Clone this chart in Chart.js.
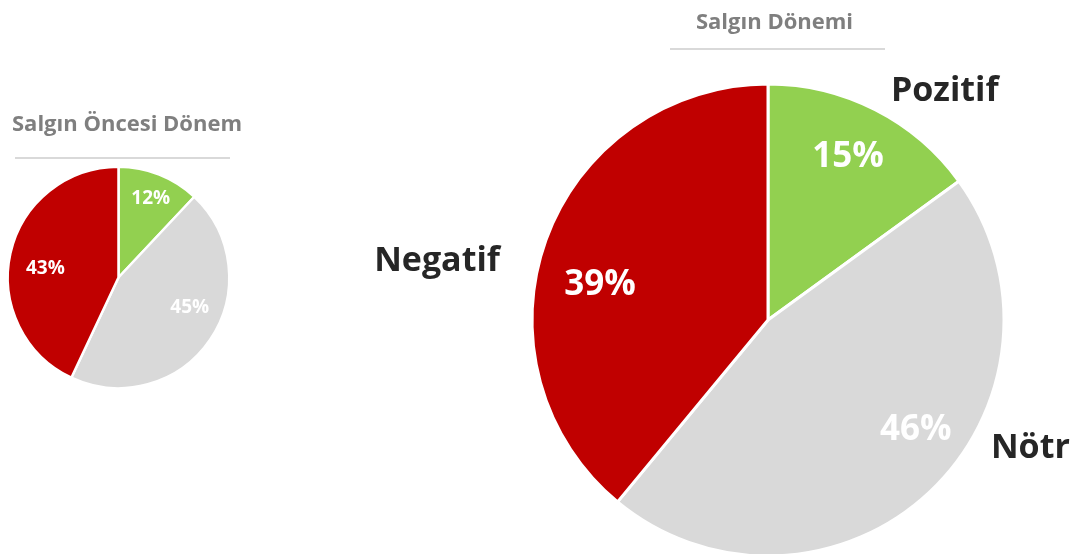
<!DOCTYPE html>
<html>
<head>
<meta charset="utf-8">
<script src="https://cdn.jsdelivr.net/npm/chart.js@4"></script>
<style>
  html, body { margin: 0; padding: 0; background: #fff; overflow: hidden; width: 1077px; height: 554px; }
  canvas { position: absolute; top: 0; }
  #preChart { left: 0; }
  #duringChart { left: 340px; }
</style>
</head>
<body>
<canvas id="preChart" width="250" height="554"></canvas>
<canvas id="duringChart" width="737" height="600"></canvas>
<script>
const categories = ["Pozitif", "Nötr", "Negatif"];
const preValues = [12, 45, 43];      // Salgın Öncesi Dönem (%)
const duringValues = [15, 46, 39];   // Salgın Dönemi (%)
const sliceColors = ["#92D050", "#D9D9D9", "#C00000"];
const preTitle = "Salgın Öncesi Dönem";
const duringTitle = "Salgın Dönemi";

const FONT = "'Open Sans', Lato, sans-serif";

// percent labels, category labels and the underlined title
const pieLabels = {
    id: "pieLabels",
    afterDraw(chart, args, opts) {
        const ctx = chart.ctx;
        const values = chart.data.datasets[0].data;
        const meta = chart.getDatasetMeta(0);
        ctx.save();
        ctx.textAlign = "center";
        ctx.textBaseline = "middle";

        let cx = 0;
        meta.data.forEach((arc, i) => {
            const p = arc.getProps(["x", "y", "startAngle", "endAngle", "outerRadius"], true);
            cx = p.x;
            const mid = (p.startAngle + p.endAngle) / 2;

            let a = mid + opts.pctShift[i] * Math.PI / 180;
            let r = p.outerRadius * opts.pctRadius[i];
            ctx.font = "bold " + opts.pctSize + "px " + FONT;
            ctx.fillStyle = "#ffffff";
            ctx.fillText(values[i] + "%", p.x + Math.cos(a) * r, p.y + Math.sin(a) * r);

            if (opts.catRadius) {
                a = mid + opts.catShift[i] * Math.PI / 180;
                r = p.outerRadius * opts.catRadius[i];
                ctx.font = "bold " + opts.catSize + "px " + FONT;
                ctx.fillStyle = "#262626";
                ctx.fillText(chart.data.labels[i], p.x + Math.cos(a) * r, p.y + Math.sin(a) * r);
            }
        });

        // title + grey rule under it
        ctx.font = "bold " + opts.titleSize + "px " + FONT;
        ctx.fillStyle = "#7F7F7F";
        ctx.fillText(opts.title, cx + opts.titleDx, opts.titleY);
        ctx.strokeStyle = "#D9D9D9";
        ctx.lineWidth = 2;
        ctx.beginPath();
        ctx.moveTo(cx + opts.lineDx - 107.5, opts.lineY);
        ctx.lineTo(cx + opts.lineDx + 107.5, opts.lineY);
        ctx.stroke();
        ctx.restore();
    }
};

function makePie(id, values, border, padding, labelOpts) {
    const ctx = document.getElementById(id).getContext("2d");
    return new Chart(ctx, {
        type: "pie",
        data: {
            labels: categories,
            datasets: [{
                data: values,
                backgroundColor: sliceColors,
                borderColor: "#ffffff",
                borderWidth: border,
                hoverOffset: 0,
                offset: 0
            }]
        },
        options: {
            responsive: false,
            animation: false,
            devicePixelRatio: 1,
            layout: { padding: padding },
            plugins: {
                legend: { display: false },
                tooltip: { enabled: false },
                pieLabels: labelOpts
            }
        },
        plugins: [pieLabels]
    });
}

makePie("preChart", preValues, 2.5,
    { left: 6.5, top: 165.5, right: 19.5, bottom: 164.5 },
    {
        pctSize: 19, pctRadius: [0.77, 0.70, 0.665], pctShift: [0.6, -11, -6],
        title: preTitle, titleSize: 22, titleDx: 8.5, titleY: 125, lineDx: 4, lineY: 158
    });

makePie("duringChart", duringValues, 3,
    { left: 190.5, top: 82.5, right: 71.5, bottom: 42.5 },
    {
        pctSize: 35, pctRadius: [0.77, 0.78, 0.727], pctShift: [-0.9, -10.2, -8],
        catSize: 34, catRadius: [1.225, 1.237, 1.424], catShift: [10.7, -20.8, -9.8],
        title: duringTitle, titleSize: 22, titleDx: 6.5, titleY: 23, lineDx: 9.5, lineY: 49
    });
</script>
</body>
</html>
